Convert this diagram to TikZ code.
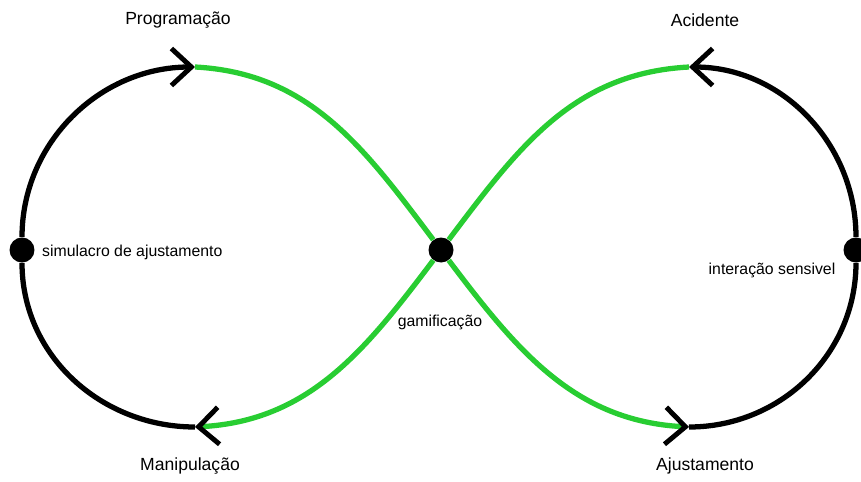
\documentclass[tikz,border=0pt]{standalone}
\usepackage{fontspec}
\setmainfont{Liberation Sans}
\usetikzlibrary{arrows.meta}
\definecolor{loopgreen}{RGB}{40,205,50}
\begin{document}
\begin{tikzpicture}[x=0.02cm,y=0.02cm,
    dot/.style={circle,fill=black,inner sep=0pt,minimum size=0.5cm},
    biglbl/.style={font=\fontsize{10}{12}\selectfont},
    smalllbl/.style={font=\fontsize{9}{11}\selectfont},
    flow/.style={line width=3pt},
    barb/.style={-{Straight Barb[length=0.4cm,width=0.74cm,line width=2.8pt,color=black]}}]
    \useasboundingbox (0,0) rectangle (861,481);
    % Points
    \node[dot] (sim) at (22,231) {};
    \node[dot] (gam) at (441,231) {};
    \node[dot] (sens) at (856,231) {};
    \coordinate (prog) at (195,414);
    \coordinate (acid) at (689,414);
    \coordinate (manip) at (195,54);
    \coordinate (ajust) at (689,54);
    % Left loop
    \draw[flow] (manip) to[out=180,in=270] (sim);
    \draw[flow,barb] (sim) to[out=90,in=180] (prog);
    % Right loop
    \draw[flow] (ajust) to[out=0,in=270] (sens);
    \draw[flow,barb] (sens) to[out=90,in=0] (acid);
    % Crossing
    \draw[flow,loopgreen,barb] (prog) to[out=-3,in=127] (gam) to[out=-53,in=177] (ajust);
    \draw[flow,loopgreen,barb] (acid) to[out=183,in=53] (gam) to[out=233,in=3] (manip);
    % Labels
    \node[biglbl] (tprog) at (178,461) {Programação};
    \node[biglbl] (tacid) at (705,461) {Acidente};
    \node[biglbl] (tmanip) at (190,15) {Manipulação};
    \node[biglbl] (tajust) at (705,15) {Ajustamento};
    \node[smalllbl,anchor=west] (tsim) at (36,229) {simulacro de ajustamento};
    \node[smalllbl] (tgam) at (440,159) {gamificação};
    \node[smalllbl] (tsens) at (772,211) {interação sensivel};
\end{tikzpicture}
\end{document}
